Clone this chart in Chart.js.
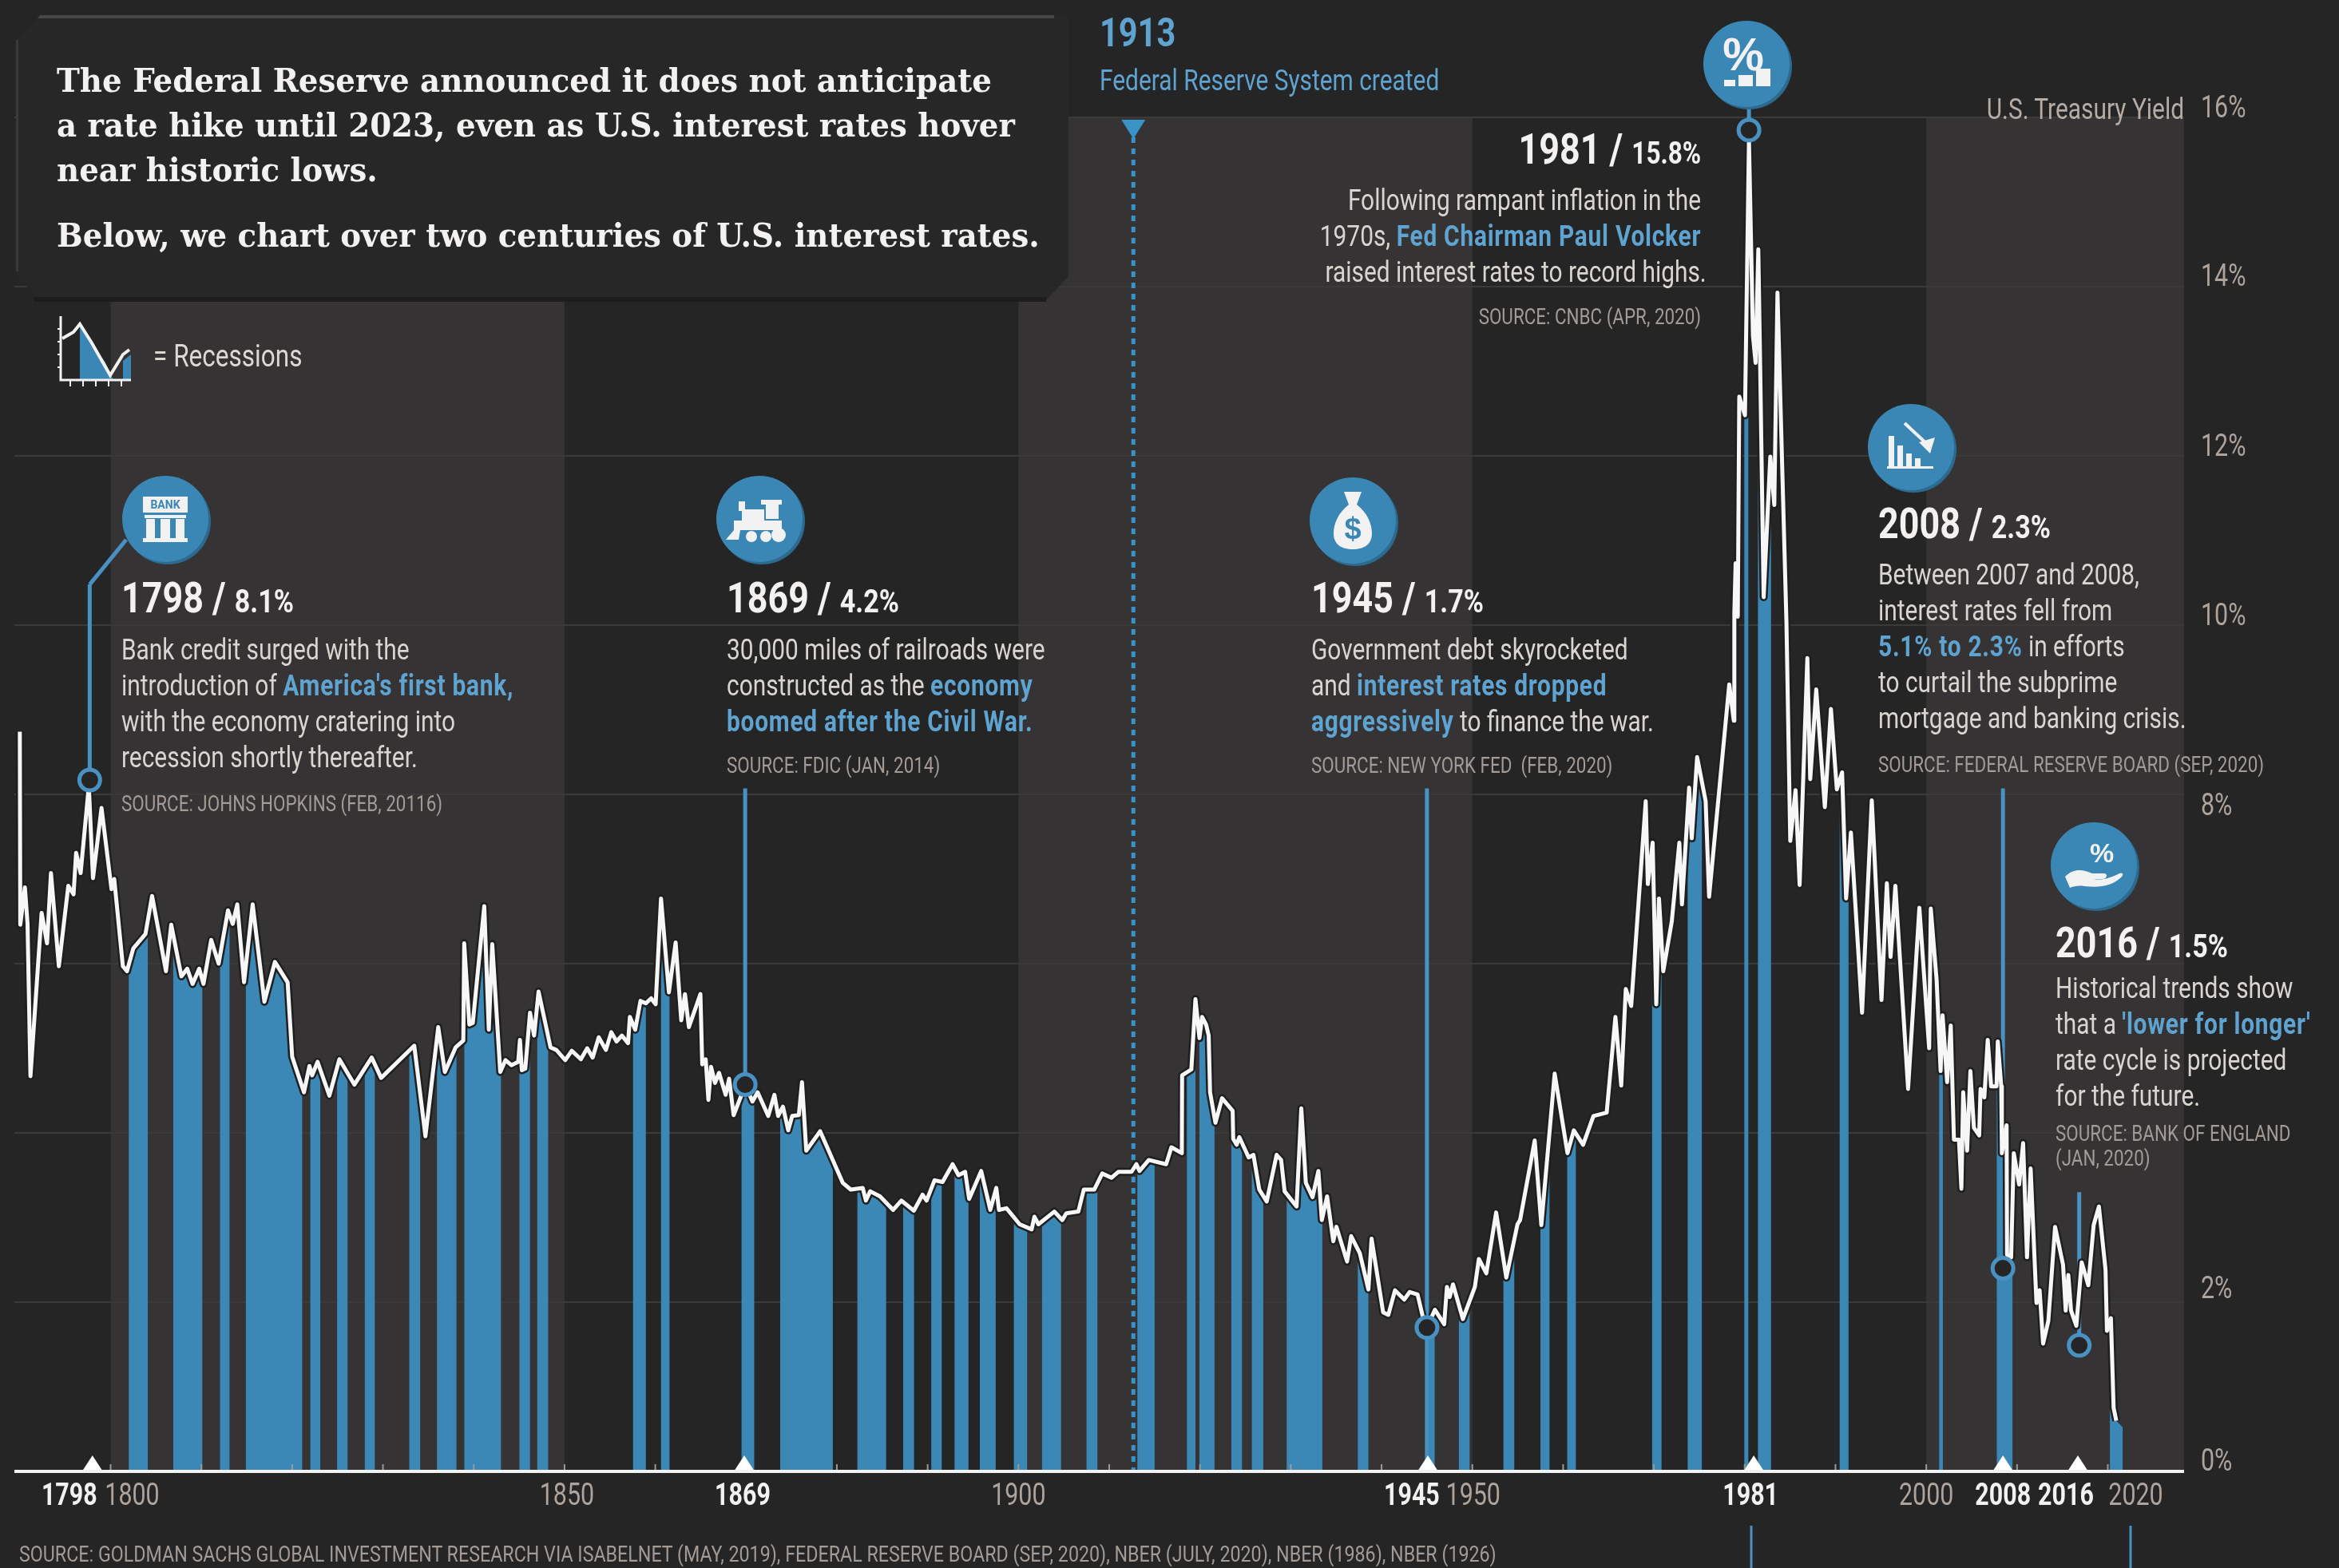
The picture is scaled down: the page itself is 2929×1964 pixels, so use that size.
<!DOCTYPE html>
<html>
<head>
<meta charset="utf-8">
<title>U.S. interest rates</title>
<script src="https://cdn.jsdelivr.net/npm/chart.js@4/dist/chart.umd.min.js"></script>
<style>
  html, body { margin: 0; padding: 0; background: #252525; }
  #wrap { position: relative; width: 2929px; height: 1964px; overflow: hidden; background: #252525; font-family: Roboto, sans-serif; color: #d9d5d1; }
  #chart { position: absolute; left: 0; top: 0; }

  /* ── intro panel ── */
  .panel { position: absolute; left: 20px; top: 20px; width: 1318px; height: 356px; background: #272727; clip-path: polygon(30px 0, 100% 0, 100% 326px, 1290px 100%, 30px 100%, 0 326px, 0 30px); }
  .panel-edge { position: absolute; left: 20px; top: 19px; width: 1300px; height: 4px; background: #474747; clip-path: polygon(30px 0, 100% 0, 100% 100%, 27px 100%); }
  .panel-left { position: absolute; left: 20px; top: 50px; width: 3px; height: 290px; background: #3a3a3a; }
  .panel-shadow { position: absolute; left: 42px; top: 372px; width: 1268px; height: 6px; background: #1e1d1c; }
  .intro { position: absolute; left: 71px; font-family: 'DejaVu Serif', serif; font-weight: bold; font-size: 41px; line-height: 56px; color: #f4f2f0; white-space: nowrap; transform: scaleX(.945); transform-origin: left center; }

  /* ── call-outs ── */
  .note { position: absolute; white-space: nowrap; transform: scaleX(.83); transform-origin: left top; }
  .note .t { font-weight: bold; font-size: 54px; line-height: 58px; color: #f4f2f0; }
  .note .t span { font-size: 41px; }
  .note .b { font-size: 36px; line-height: 45px; }
  .note .b b { color: #5fa3d0; letter-spacing: .9px; }
  .note .s { font-size: 27px; line-height: 31px; color: #a29b96; }
  .right { text-align: right; transform-origin: right top; }
  .icon { position: absolute; }
</style>
</head>
<body>
<div id="wrap">
  <canvas id="chart" width="2929" height="1964"></canvas>

  <div class="panel"></div><div class="panel-edge"></div><div class="panel-left"></div><div class="panel-shadow"></div>
  <div class="intro" style="top:73px">The Federal Reserve announced it does not anticipate</div>
  <div class="intro" style="top:129px">a rate hike until 2023, even as U.S. interest rates hover</div>
  <div class="intro" style="top:185px">near historic lows.</div>
  <div class="intro" style="top:267px">Below, we chart over two centuries of U.S. interest rates.</div>

  <svg class="icon" style="left:70px;top:392px" width="104" height="100" viewBox="0 0 104 100">
    <path d="M30 18 L62 62 L72 84 L30 84 Z M84 60 L94 52 L94 84 L84 84 Z" fill="#3a87b5"/>
    <path d="M6 4 V84 H94" fill="none" stroke="#f2f2f2" stroke-width="3"/>
    <path d="M8 32 L22 24 L30 14 L44 36 L68 78 L84 52 L92 46" fill="none" stroke="#f2f2f2" stroke-width="4"/>
    <path d="M2 20h5M2 36h5M2 52h5M2 68h5M18 84v8M34 84v8M50 84v8M66 84v8M82 84v8" stroke="#f2f2f2" stroke-width="2"/>
  </svg>
  <div class="note" style="left:192px;top:424px;font-size:38px;line-height:44px;color:#dcd8d4">= Recessions</div>

  <!-- 1913 -->
  <div class="note" style="left:1377px;top:12px;font-weight:bold;font-size:50px;line-height:58px;color:#5fa3d0">1913</div>
  <div class="note" style="left:1377px;top:79px;font-size:36px;line-height:44px;color:#5fa3d0">Federal Reserve System created</div>

  <!-- 1798 -->
  <div class="note" style="left:152px;top:720px">
    <div class="t">1798 / <span>8.1%</span></div>
    <div class="b" style="margin-top:10px">Bank credit surged with the<br>introduction of <b>America's first bank,</b><br>with the economy cratering into<br>recession shortly thereafter.</div>
    <div class="s" style="margin-top:20px">SOURCE: JOHNS HOPKINS (FEB, 20116)</div>
  </div>

  <!-- 1869 -->
  <div class="note" style="left:910px;top:720px">
    <div class="t">1869 / <span>4.2%</span></div>
    <div class="b" style="margin-top:10px">30,000 miles of railroads were<br>constructed as the <b>economy</b><br><b>boomed after the Civil War.</b></div>
    <div class="s" style="margin-top:17px">SOURCE: FDIC (JAN, 2014)</div>
  </div>

  <!-- 1945 -->
  <div class="note" style="left:1642px;top:720px">
    <div class="t">1945 / <span>1.7%</span></div>
    <div class="b" style="margin-top:10px">Government debt skyrocketed<br>and <b>interest rates dropped</b><br><b>aggressively</b> to finance the war.</div>
    <div class="s" style="margin-top:17px">SOURCE: NEW YORK FED&nbsp; (FEB, 2020)</div>
  </div>

  <!-- 1981 -->
  <div class="note right" style="right:799px;top:158px">
    <div class="t">1981 / <span style="font-size:38px">15.8%</span></div>
    <div class="b" style="margin-top:8px">Following rampant inflation in the<br>1970s, <b>Fed Chairman Paul Volcker</b><br><span style="margin-right:-8px">raised interest rates to record highs.</span></div>
    <div class="s" style="margin-top:18px">SOURCE: CNBC (APR, 2020)</div>
  </div>

  <!-- 2008 -->
  <div class="note" style="left:2352px;top:627px">
    <div class="t">2008 / <span>2.3%</span></div>
    <div class="b" style="margin-top:9px">Between 2007 and 2008,<br>interest rates fell from<br><b>5.1% to 2.3%</b> in efforts<br>to curtail the subprime<br>mortgage and banking crisis.</div>
    <div class="s" style="margin-top:20px">SOURCE: FEDERAL RESERVE BOARD (SEP, 2020)</div>
  </div>

  <!-- 2016 -->
  <div class="note" style="left:2574px;top:1152px">
    <div class="t">2016 / <span>1.5%</span></div>
    <div class="b" style="margin-top:2px">Historical trends show<br>that a <b>'lower for longer'</b><br>rate cycle is projected<br>for the future.</div>
    <div class="s" style="margin-top:9px">SOURCE: BANK OF ENGLAND<br>(JAN, 2020)</div>
  </div>

  <div class="note right" style="right:194px;top:116px;font-size:36px;line-height:42px;color:#b5aca6">U.S. Treasury Yield</div>
  <div class="note" style="left:24px;top:1930px;font-size:28px;line-height:34px;color:#a29b96">SOURCE: GOLDMAN SACHS GLOBAL INVESTMENT RESEARCH VIA ISABELNET (MAY, 2019), FEDERAL RESERVE BOARD (SEP, 2020), NBER (JULY, 2020), NBER (1986), NBER (1926)</div>

  <!-- icons -->
  <svg class="icon" style="left:147px;top:590px" width="120" height="120" viewBox="-60 -60 120 120">
    <circle cx="3" cy="3" r="54" fill="#2c6a8f"/><circle r="54" fill="#3a87b5"/>
    <g fill="#f2f2f2"><path d="M-28 -28H28V-8H-28Z"/><rect x="-26" y="-5" width="52" height="4"/><rect x="-24" y="0" width="11" height="24"/><rect x="-6" y="0" width="12" height="24"/><rect x="13" y="0" width="11" height="24"/><rect x="-28" y="24" width="56" height="5"/></g>
    <text x="0" y="-13" text-anchor="middle" font-size="14" font-weight="bold" fill="#3a87b5">BANK</text>
  </svg>
  <svg class="icon" style="left:891px;top:590px" width="120" height="120" viewBox="-60 -60 120 120">
    <circle cx="3" cy="3" r="54" fill="#2c6a8f"/><circle r="54" fill="#3a87b5"/>
    <g fill="#f2f2f2"><rect x="2" y="-24" width="26" height="6"/><rect x="8" y="-18" width="16" height="18"/><rect x="-22" y="-12" width="28" height="14"/><rect x="-32" y="2" width="60" height="12"/><rect x="-26" y="-22" width="8" height="12"/><path d="M-32 14L-42 26H-26L-24 14Z"/><circle cx="-10" cy="22" r="7"/><circle cx="8" cy="22" r="7"/><circle cx="24" cy="20" r="9"/></g>
  </svg>
  <svg class="icon" style="left:1634px;top:592px" width="120" height="120" viewBox="-60 -60 120 120">
    <circle cx="3" cy="3" r="54" fill="#2c6a8f"/><circle r="54" fill="#3a87b5"/>
    <path d="M-11 -36H11L5 -20C18 -10 24 4 24 16C24 30 14 36 0 36C-14 36 -24 30 -24 16C-24 4 -18 -10 -5 -20Z" fill="#f2f2f2"/>
    <text x="0" y="23" text-anchor="middle" font-size="38" font-weight="bold" font-family="Liberation Sans" fill="#3a87b5">$</text>
  </svg>
  <svg class="icon" style="left:2127px;top:20px" width="120" height="120" viewBox="-60 -60 120 120">
    <circle cx="3" cy="3" r="54" fill="#2c6a8f"/><circle r="54" fill="#3a87b5"/>
    <text x="-4" y="8" text-anchor="middle" font-size="58" font-weight="bold" font-family="Liberation Sans" fill="#f2f2f2">%</text>
    <g fill="#f2f2f2"><rect x="-28" y="20" width="14" height="8"/><rect x="-10" y="14" width="18" height="14"/><rect x="12" y="6" width="18" height="22"/></g>
  </svg>
  <svg class="icon" style="left:2333px;top:500px" width="120" height="120" viewBox="-60 -60 120 120">
    <circle cx="3" cy="3" r="54" fill="#2c6a8f"/><circle r="54" fill="#3a87b5"/>
    <g fill="#f2f2f2"><rect x="-28" y="-14" width="7" height="38"/><rect x="-17" y="-2" width="7" height="26"/><rect x="-6" y="8" width="7" height="16"/><rect x="5" y="14" width="7" height="10"/><rect x="-30" y="24" width="58" height="3"/><path d="M10 -6L30 -12L24 8Z"/></g>
    <path d="M-8 -30L22 -2" stroke="#f2f2f2" stroke-width="4"/>
  </svg>
  <svg class="icon" style="left:2562px;top:1024px" width="120" height="120" viewBox="-60 -60 120 120">
    <circle cx="3" cy="3" r="54" fill="#2c6a8f"/><circle r="54" fill="#3a87b5"/>
    <text x="10" y="-4" text-anchor="middle" font-size="34" font-weight="bold" font-family="Liberation Sans" fill="#f2f2f2">%</text>
    <path d="M-36 14C-24 2 -12 6 -2 10H14C18 12 16 17 10 17H0C10 19 20 16 32 10C36 8 38 12 34 15C22 26 8 28 -12 26C-18 25 -26 26 -30 28Z" fill="#f2f2f2"/>
  </svg>
</div>

<script>
/* ── DATA ── */
const years = [
  1790, 1790.05, 1790.56, 1790.85, 1791.17, 1792.4, 1793, 1793.43, 1794.3, 1795.34, 1795.92, 1796.2, 1796.7, 1797.6, 1798.06, 1799,
  1800.1, 1800.4, 1801.35, 1801.8, 1802.5, 1803.84, 1804.57, 1806.1, 1806.68, 1807.8, 1808.44, 1809.03, 1809.76, 1810.23,
  1811.08, 1811.9, 1812.93, 1813.45, 1813.95, 1814.7, 1815.65, 1816.94, 1818.1, 1819.5, 1820, 1821.3, 1821.9, 1822.2, 1822.8,
  1824.1, 1825.2, 1826.85, 1828.76, 1829.8, 1833.45, 1834.68, 1836.09, 1836.82, 1838, 1838.85, 1838.95, 1839.52, 1839.9,
  1841.16, 1841.66, 1842.04, 1842.92, 1843.5, 1844.15, 1844.9, 1845.09, 1845.3, 1845.68, 1846.2, 1846.65, 1847.14, 1848.46, 1849.1,
  1850.08, 1850.8, 1851.8, 1852.5, 1853.1, 1853.77, 1854.56, 1855.15, 1855.73, 1856.32, 1857, 1857.2, 1857.79, 1858.37, 1858.96, 1859.54, 1860.04,
  1860.63, 1861.5, 1862.24, 1862.86, 1863.27, 1863.7, 1864.97, 1865.17, 1865.55, 1865.85, 1866.14, 1866.58, 1867.02, 1867.75, 1868.13, 1868.63,
  1869.5, 1869.95, 1870.7, 1871.27, 1872.44, 1873.12, 1873.53, 1874.06, 1874.64, 1875.08, 1875.81, 1876.16, 1876.63, 1878.16,
  1880.65, 1881.53, 1882.85, 1883.2, 1883.67, 1884.75, 1886.2, 1887.1, 1888.48, 1889.44, 1889.88, 1890.76, 1891.64, 1892.75, 1893.4, 1894.13, 1894.57, 1895.9,
  1896.9, 1897.56, 1897.86, 1898.68, 1900.14, 1901.46, 1901.76, 1902.2, 1903.95, 1904.83, 1905.27, 1906.6, 1907.2, 1908.35, 1909.23, 1910.26, 1911,
  1912.46, 1913, 1913.34, 1914.36, 1916.27, 1916.85, 1918, 1918.03, 1919.05, 1919.5, 1919.94, 1920.23, 1920.67, 1920.96, 1921.11, 1921.7, 1922.43, 1923.6, 1923.66,
  1924.04, 1924.33, 1925.36, 1925.89, 1926.53, 1927.35, 1928.44, 1928.94, 1929.32, 1930.64, 1931.16, 1931.66, 1932.4, 1933.04, 1933.42, 1934, 1934.68, 1935.03,
  1936.2, 1936.65, 1937.6, 1938.55, 1938.9, 1940.17, 1940.75, 1941.48, 1942.5, 1943.1, 1943.97, 1944.56, 1945, 1945.88, 1946.9, 1947.2, 1947.5, 1947.87, 1948.96,
  1950.28, 1950.72, 1951.54, 1952.62, 1953.74, 1954.97, 1955.26, 1956.87, 1957.6, 1959.07, 1960.48, 1961.18, 1962.2, 1963.34, 1964.8, 1965.76, 1966.4, 1966.9, 1967.5,
  1969.1, 1969.33, 1969.86, 1970.26, 1970.56, 1971.03, 1971.97, 1972.8, 1973.09, 1973.88, 1974.17, 1974.76, 1975.7, 1976.08, 1978.3, 1978.8, 1978.86, 1979, 1979.24, 1979.4,
  1980.03, 1980.47, 1980.91, 1981.2, 1981.5, 1981.7, 1982.09, 1982.82, 1983.26, 1983.61, 1984.6, 1985.02, 1985.6, 1986.05, 1986.9, 1987.22, 1987.88, 1988.83, 1989.5,
  1990.15, 1990.73, 1991.17, 1991.7, 1992.93, 1994, 1995.07, 1995.66, 1996.07, 1996.6, 1998, 1999.24, 2000.32, 2000.5, 2001.14, 2001.58, 2001.8, 2002.3, 2002.7,
  2003.05, 2003.6, 2003.87, 2004.07, 2004.5, 2004.86, 2005.25, 2005.83, 2005.98, 2006.4, 2006.77, 2007.15, 2007.74, 2007.88, 2008.26, 2008.33, 2008.85, 2008.9, 2009.35, 2009.64,
  2010.23, 2010.67, 2011.1, 2011.5, 2012.14, 2012.49, 2012.87, 2013.45, 2014.19, 2015.07, 2015.36, 2015.65, 2015.95, 2016.53, 2017.12, 2017.85, 2018.44, 2019.02, 2019.75, 2019.9,
  2020.34, 2020.64, 2020.93
];
const yields = [
  8.74, 6.46, 6.9, 6.47, 4.67, 6.6, 6.24, 7.07, 5.97, 6.92, 6.82, 7.31, 7.07, 8.1, 7.01, 7.84,
  6.88, 7, 5.97, 5.91, 6.18, 6.35, 6.8, 5.91, 6.46, 5.85, 5.94, 5.76, 5.94, 5.76,
  6.28, 6, 6.63, 6.47, 6.7, 5.78, 6.7, 5.55, 6.02, 5.78, 4.9, 4.48, 4.79, 4.68, 4.84,
  4.44, 4.87, 4.57, 4.89, 4.65, 5.03, 3.96, 5.25, 4.72, 5.01, 5.09, 6.24, 5.28, 5.3,
  6.68, 5.22, 6.23, 4.72, 4.86, 4.8, 4.84, 5.1, 4.74, 4.76, 5.42, 5.15, 5.67, 5.01, 4.98,
  4.86, 4.97, 4.87, 5, 4.89, 5.13, 4.98, 5.19, 5.08, 5.15, 5.06, 5.37, 5.22, 5.56, 5.53, 5.59, 5.52,
  6.77, 5.66, 6.25, 5.33, 5.64, 5.25, 5.64, 4.81, 4.87, 4.39, 4.78, 4.59, 4.71, 4.45, 4.64, 4.21,
  4.45, 4.56, 4.37, 4.48, 4.2, 4.45, 4.2, 4.31, 4.03, 4.2, 4.21, 4.6, 3.79, 4.02,
  3.41, 3.33, 3.35, 3.2, 3.31, 3.25, 3.09, 3.2, 3.08, 3.27, 3.2, 3.44, 3.42, 3.63, 3.5, 3.54, 3.22, 3.55,
  3.09, 3.35, 3.09, 3.11, 2.92, 2.86, 3.01, 2.92, 3.07, 2.97, 3.05, 3.07, 3.33, 3.33, 3.52, 3.47, 3.54,
  3.54, 3.63, 3.55, 3.68, 3.63, 3.83, 3.76, 4.68, 4.75, 5.58, 5.12, 5.37, 5.28, 5.15, 4.48, 4.12, 4.41, 4.26, 3.93,
  3.86, 3.95, 3.71, 3.74, 3.33, 3.19, 3.74, 3.68, 3.31, 3.13, 4.29, 3.41, 3.24, 3.55, 2.97, 3.25, 2.72, 2.89,
  2.48, 2.78, 2.58, 2.15, 2.75, 1.88, 1.85, 2.14, 2.03, 2.12, 2.09, 1.82, 1.7, 1.91, 1.74, 2.18, 2.06, 2.21, 1.8,
  2.18, 2.51, 2.34, 3.06, 2.29, 2.92, 2.97, 3.91, 2.91, 4.7, 3.76, 4.03, 3.86, 4.2, 4.24, 5.37, 4.56, 5.7, 5.5,
  7.92, 6.94, 7.43, 5.52, 6.77, 5.91, 6.5, 7.43, 6.7, 8.08, 7.48, 8.44, 7.92, 6.79, 9.3, 8.87, 10.14, 10.73, 10.1, 12.7,
  12.48, 15.73, 13.42, 13.1, 14.44, 13.1, 10.33, 11.99, 11.42, 13.93, 10.03, 7.45, 8.05, 6.93, 9.61, 8.18, 9.24, 7.85, 9.01,
  8.06, 8.26, 6.77, 7.55, 5.42, 7.93, 5.57, 6.95, 6.08, 6.92, 4.52, 6.66, 5, 6.65, 5.81, 4.73, 5.39, 4.6, 5.27,
  3.92, 3.92, 3.34, 4.48, 3.79, 4.73, 4.06, 3.97, 4.52, 4.42, 5.1, 4.55, 4.55, 5.08, 4.55, 3.76, 4.09, 2.56, 2.53, 3.76,
  3.39, 3.88, 2.53, 3.58, 1.99, 2.14, 1.51, 1.78, 2.89, 2.44, 1.9, 2.32, 1.9, 1.72, 2.47, 2.2, 2.91, 3.13, 2.38, 1.66,
  1.81, 0.75, 0.6
];

// recession start / end years
const recessionStart = [1802, 1806.9, 1812.05, 1814.9, 1822, 1824.95, 1828, 1832.9, 1835.95, 1838.96, 1845.03, 1847, 1857.55, 1860.63, 1869.5, 1873.76, 1882.26, 1887.3, 1890.4, 1892.96, 1895.75, 1899.5, 1902.6, 1907.5, 1913.1, 1918.56, 1919.94, 1923.45, 1925.71, 1929.55, 1937.38, 1945.15, 1948.52, 1953.42, 1957.5, 1960.45, 1969.8, 1973.72, 1979.96, 1981.46, 1990.46, 2001.42, 2007.77, 2020.23];
const recessionEnd   = [1804.1, 1810.1, 1813.1, 1821.1, 1823.1, 1826.1, 1829.1, 1834.1, 1838.1, 1843, 1846.2, 1848.2, 1858.96, 1861.57, 1870.9, 1879.56, 1885.43, 1888.5, 1891.55, 1894.5, 1897.5, 1900.96, 1904.7, 1908.7, 1915, 1919.5, 1921.6, 1924.63, 1926.97, 1933.48, 1938.55, 1945.85, 1949.7, 1954.62, 1958.5, 1961.4, 1970.84, 1975.28, 1980.4, 1982.9, 1991.44, 2001.83, 2009.5, 2021.67];
const lastBarYear = 2021.67, lastBarYield = 0.52;

// call-out markers
const markerYears  = [1797.7, 1869.9, 1945, 1980.47, 2008.45, 2016.85];
const markerYields = [8.17, 4.57, 1.7, 15.85, 2.4, 1.49];
const stemTops     = [10.48, 8.07, 8.07, 16.2, 8.07, 3.3];
const stemBottoms  = [8.17, 4.57, 0, 15.85, 0, 1.49];

const triangleYears = [1798, 1869.8, 1945.1, 1981, 2008.45, 2016.7];
const fedYear = 1912.66;
const bandStart = [1800, 1900, 2000];
const bandEnd   = [1850, 1950, 2028.4];

const xLabels  = ['1798', '1800', '1850', '1869', '1900', '1945', '1950', '1981', '2000', '2008', '2016', '2020'];
const xLabelAt = [1798, 1800, 1850, 1869.8, 1900, 1945, 1950, 1981, 2000, 2008.45, 2016.7, 2020];
const xNudge   = [-29, 27, 3, -2, 0, -19, 1, -4, 0, 0, -15, 35];
const xBold    = [1, 0, 0, 1, 0, 1, 0, 1, 0, 1, 1, 0];
const yLabels  = [0, 2, 8, 10, 12, 14, 16];
const yNudge   = [-11, -15, 16, -10, -10, -11, -10];

/* ── COLOURS ── */
const BLUE = '#3b87b5', STEM = '#4a91c3', WHITE = '#f7f7f7', BAND = '#353334', TICK = '#ada49e';

const linePoints = years.map((x, i) => ({ x, y: yields[i] }));

function squeezedText(ctx, text, x, y) {
  ctx.save();
  ctx.translate(x, y);
  ctx.scale(0.8, 1);
  ctx.fillText(text, 0, 0);
  ctx.restore();
}

/* ── PLUGINS ── */
const backdrop = {
  id: 'backdrop',
  beforeDraw(chart) {
    const { ctx, chartArea: a, scales: { x } } = chart;
    ctx.save();
    ctx.fillStyle = BAND;
    bandStart.forEach((s, i) => {
      const l = x.getPixelForValue(s);
      ctx.fillRect(l, a.top, x.getPixelForValue(bandEnd[i]) - l, a.bottom - a.top);
    });
    ctx.restore();
  },
  beforeDatasetsDraw(chart) {
    const { ctx, chartArea: a, scales: { x, y } } = chart;
    ctx.save();
    // 1913 dotted line
    const fx = x.getPixelForValue(fedYear);
    ctx.strokeStyle = '#3a93c6';
    ctx.lineWidth = 5;
    ctx.setLineDash([7, 7]);
    ctx.beginPath(); ctx.moveTo(fx, 172); ctx.lineTo(fx, a.bottom); ctx.stroke();
    ctx.setLineDash([]);
    ctx.fillStyle = '#3a93c6';
    ctx.beginPath(); ctx.moveTo(fx - 15, 150); ctx.lineTo(fx + 15, 150); ctx.lineTo(fx, 174); ctx.fill();
    // stems
    ctx.strokeStyle = STEM;
    ctx.lineWidth = 5;
    markerYears.forEach((m, i) => {
      const sx = x.getPixelForValue(m);
      ctx.beginPath(); ctx.moveTo(sx, y.getPixelForValue(stemTops[i])); ctx.lineTo(sx, y.getPixelForValue(stemBottoms[i])); ctx.stroke();
    });
    const bx = x.getPixelForValue(markerYears[0]);
    ctx.beginPath(); ctx.moveTo(bx, y.getPixelForValue(stemTops[0])); ctx.lineTo(158, 676); ctx.stroke();
    ctx.restore();
    // the filler paints the area at its own beforeDatasetDraw, which comes first, so clip here
    ctx.save();
    ctx.beginPath();
    recessionStart.forEach((s, i) => {
      const l = x.getPixelForValue(s);
      ctx.rect(l, a.top, x.getPixelForValue(recessionEnd[i]) - l, a.bottom - a.top);
    });
    ctx.clip();
  },
  beforeDatasetDraw(chart, args) {
    if (args.index === 0) chart.ctx.restore();
  }
};

const axisMarks = {
  id: 'axisMarks',
  afterDatasetsDraw(chart) {
    const { ctx, chartArea: a, scales: { x, y } } = chart;
    ctx.save();
    // decade ticks
    ctx.strokeStyle = '#9a9a9a';
    ctx.lineWidth = 2;
    for (let d = 1800; d <= 2020; d += 10) {
      const p = x.getPixelForValue(d);
      ctx.beginPath(); ctx.moveTo(p, a.bottom - 9); ctx.lineTo(p, a.bottom); ctx.stroke();
    }
    // milestone triangles
    ctx.fillStyle = '#ffffff';
    triangleYears.forEach(t => {
      const p = x.getPixelForValue(t);
      ctx.beginPath(); ctx.moveTo(p - 13, a.bottom); ctx.lineTo(p, a.bottom - 20); ctx.lineTo(p + 13, a.bottom); ctx.fill();
    });
    // baseline
    ctx.fillStyle = '#f2f2f2';
    ctx.fillRect(a.left, a.bottom - 2, a.right - a.left, 4);
    // tick labels
    ctx.textAlign = 'center';
    ctx.textBaseline = 'middle';
    xLabels.forEach((t, i) => {
      ctx.font = (xBold[i] ? 'bold ' : '') + '38px Roboto';
      ctx.fillStyle = xBold[i] ? '#f4f2f0' : TICK;
      squeezedText(ctx, t, x.getPixelForValue(xLabelAt[i]) + xNudge[i], 1875);
    });
    ctx.textAlign = 'left';
    ctx.font = '38px Roboto';
    ctx.fillStyle = TICK;
    yLabels.forEach((v, i) => squeezedText(ctx, v + '%', 2756, y.getPixelForValue(v) + yNudge[i]));
    // stubs under the axis
    ctx.strokeStyle = STEM;
    ctx.lineWidth = 3;
    [2193, 2668].forEach(p => { ctx.beginPath(); ctx.moveTo(p, 1911); ctx.lineTo(p, 1964); ctx.stroke(); });
    ctx.restore();
  }
};

/* ── CHART ── */
new Chart(document.getElementById('chart'), {
  type: 'line',
  data: {
    datasets: [
      { data: [...linePoints, { x: lastBarYear, y: lastBarYield }], borderWidth: 0, pointRadius: 0, fill: 'origin', backgroundColor: BLUE, order: 4 },
      { data: linePoints, borderColor: '#1f1f1f', borderWidth: 10, pointRadius: 0, fill: false, borderJoinStyle: 'round', order: 3 },
      { data: linePoints, borderColor: WHITE, borderWidth: 5, pointRadius: 0, fill: false, borderJoinStyle: 'round', order: 2 },
      { data: markerYears.map((x, i) => ({ x, y: markerYields[i] })), showLine: false, pointRadius: 13, pointBorderWidth: 5, pointBorderColor: STEM, pointBackgroundColor: '#252525', order: 1, clip: false }
    ]
  },
  options: {
    responsive: false,
    animation: false,
    layout: { padding: { left: 17, right: 194, top: 147, bottom: 121 } },
    plugins: { legend: { display: false }, tooltip: { enabled: false } },
    elements: { line: { tension: 0 } },
    scales: {
      x: { type: 'linear', display: false, min: 1789.4, max: 2028.4 },
      y: {
        position: 'right', min: 0, max: 16,
        ticks: { stepSize: 2, display: false },
        grid: { color: '#3b3a3a', lineWidth: 2, drawTicks: false },
        border: { display: false }
      }
    }
  },
  plugins: [backdrop, axisMarks]
});
</script>
</body>
</html>
